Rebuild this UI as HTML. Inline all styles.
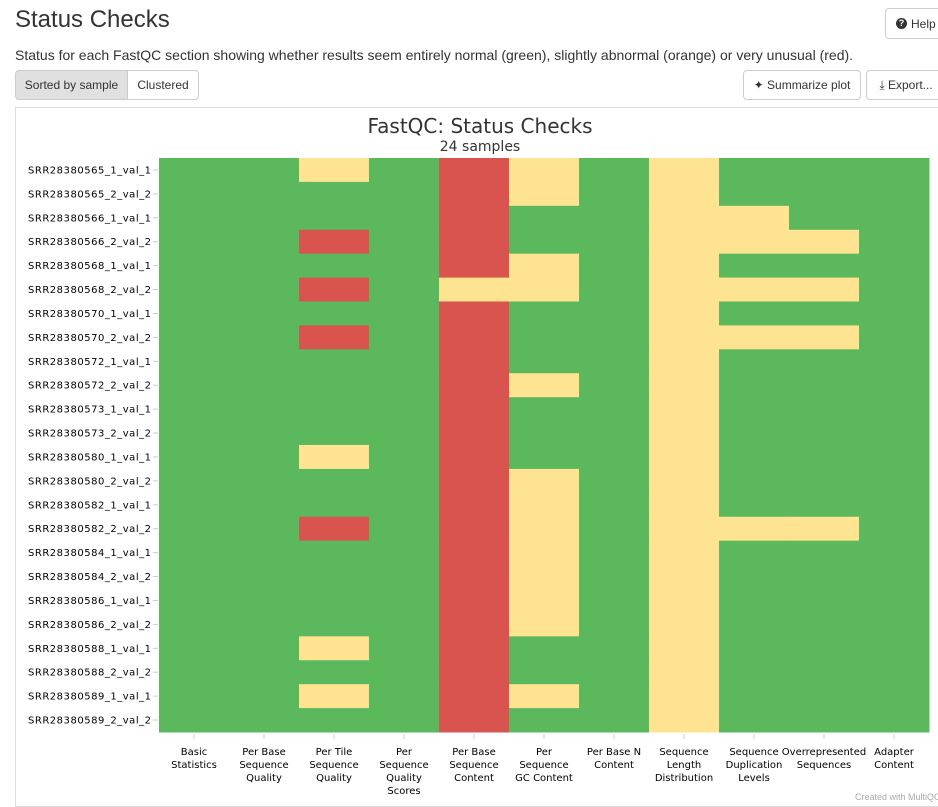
<!DOCTYPE html>
<html><head><meta charset="utf-8"><style>
body{margin:0;background:#fff;font-family:"Liberation Sans",Arial,sans-serif;color:#333;width:938px;height:798px;overflow:hidden;position:relative}
.btn{position:absolute;border:1px solid #ccc;border-radius:4px;background:#fff;font-size:12px;color:#333;box-sizing:border-box;display:flex;align-items:center;justify-content:center;white-space:nowrap}
</style></head><body>
<div style="position:absolute;left:15px;top:6px;font-size:24px;color:#333">Status Checks</div>
<div class="btn" style="left:885px;top:8px;width:60px;height:31px;justify-content:flex-start;padding-left:10px"><span style="display:inline-block;width:11px;height:11px;border-radius:50%;background:#333;color:#fff;font-size:9px;line-height:11px;text-align:center;font-weight:bold;margin-right:4px">?</span>Help</div>
<div style="position:absolute;left:15px;top:47px;font-size:14px">Status for each FastQC section showing whether results seem entirely normal (green), slightly abnormal (orange) or very unusual (red).</div>
<div class="btn" style="left:15px;top:70px;width:113px;height:30px;background:#e0e0e0;border-radius:4px 0 0 4px">Sorted by sample</div>
<div class="btn" style="left:127px;top:70px;width:72px;height:30px;border-radius:0 4px 4px 0">Clustered</div>
<div class="btn" style="left:743px;top:70px;width:118px;height:30px">&#10022; Summarize plot</div>
<div class="btn" style="left:866px;top:70px;width:80px;height:30px">&#10515; Export...</div>
<div style="position:absolute;left:15px;top:107px;width:930px;height:700px;border:1px solid #ddd;box-sizing:border-box"></div>
<svg id="chart" width="938" height="798" style="position:absolute;left:0;top:0" font-family="'DejaVu Sans',Verdana,sans-serif">
<text x="480" y="133" text-anchor="middle" font-size="20" fill="#333">FastQC: Status Checks</text>
<text x="480" y="151" text-anchor="middle" font-size="14" fill="#333">24 samples</text>
</svg>
<div style="position:absolute;left:855px;top:792px;font-size:9px;color:#aaa;white-space:nowrap">Created with MultiQC</div>
<script>
const samples=["SRR28380565_1_val_1","SRR28380565_2_val_2","SRR28380566_1_val_1","SRR28380566_2_val_2","SRR28380568_1_val_1","SRR28380568_2_val_2","SRR28380570_1_val_1","SRR28380570_2_val_2","SRR28380572_1_val_1","SRR28380572_2_val_2","SRR28380573_1_val_1","SRR28380573_2_val_2","SRR28380580_1_val_1","SRR28380580_2_val_2","SRR28380582_1_val_1","SRR28380582_2_val_2","SRR28380584_1_val_1","SRR28380584_2_val_2","SRR28380586_1_val_1","SRR28380586_2_val_2","SRR28380588_1_val_1","SRR28380588_2_val_2","SRR28380589_1_val_1","SRR28380589_2_val_2"];
const sections=[["Basic","Statistics"],["Per Base","Sequence","Quality"],["Per Tile","Sequence","Quality"],["Per","Sequence","Quality","Scores"],["Per Base","Sequence","Content"],["Per","Sequence","GC Content"],["Per Base N","Content"],["Sequence","Length","Distribution"],["Sequence","Duplication","Levels"],["Overrepresented","Sequences"],["Adapter","Content"]];
// 1=pass, 0.5=warn, 0=fail
const values=[
[1,1,.5,1,0,.5,1,.5,1,1,1],
[1,1,1,1,0,.5,1,.5,1,1,1],
[1,1,1,1,0,1,1,.5,.5,1,1],
[1,1,0,1,0,1,1,.5,.5,.5,1],
[1,1,1,1,0,.5,1,.5,1,1,1],
[1,1,0,1,.5,.5,1,.5,.5,.5,1],
[1,1,1,1,0,1,1,.5,1,1,1],
[1,1,0,1,0,1,1,.5,.5,.5,1],
[1,1,1,1,0,1,1,.5,1,1,1],
[1,1,1,1,0,.5,1,.5,1,1,1],
[1,1,1,1,0,1,1,.5,1,1,1],
[1,1,1,1,0,1,1,.5,1,1,1],
[1,1,.5,1,0,1,1,.5,1,1,1],
[1,1,1,1,0,.5,1,.5,1,1,1],
[1,1,1,1,0,.5,1,.5,1,1,1],
[1,1,0,1,0,.5,1,.5,.5,.5,1],
[1,1,1,1,0,.5,1,.5,1,1,1],
[1,1,1,1,0,.5,1,.5,1,1,1],
[1,1,1,1,0,.5,1,.5,1,1,1],
[1,1,1,1,0,.5,1,.5,1,1,1],
[1,1,.5,1,0,1,1,.5,1,1,1],
[1,1,1,1,0,1,1,.5,1,1,1],
[1,1,.5,1,0,.5,1,.5,1,1,1],
[1,1,1,1,0,1,1,.5,1,1,1]];
const svg=document.getElementById('chart');const NS="http://www.w3.org/2000/svg";
const X0=159,X1=929,Y0=158,Y1=732;
const cw=(X1-X0)/sections.length, rh=(Y1-Y0)/samples.length;
const xs=i=>X0+i*cw, ys=j=>Y0+j*rh;
const color=v=>v>=1?"#5cb85c":(v>=.5?"#fee391":"#d9534f");
values.forEach((row,j)=>row.forEach((v,i)=>{
 const r=document.createElementNS(NS,'rect');
 r.setAttribute('x',xs(i));r.setAttribute('y',ys(j));r.setAttribute('width',cw+0.5);r.setAttribute('height',rh+0.5);r.setAttribute('fill',color(v));
 
 
 svg.appendChild(r);
}));
samples.forEach((s,j)=>{
 const t=document.createElementNS(NS,'text');
 t.setAttribute('x',X0-8);t.setAttribute('y',ys(j)+rh/2+3.5);t.setAttribute('text-anchor','end');t.setAttribute('font-size','10');t.setAttribute('fill','#000');
 t.setAttribute('textLength','123');t.setAttribute('lengthAdjust','spacing');
 t.textContent=s;
 
 
 svg.appendChild(t);
 const l=document.createElementNS(NS,'line');
 l.setAttribute('x1',X0-6);l.setAttribute('x2',X0-1);l.setAttribute('y1',ys(j)+rh/2);l.setAttribute('y2',ys(j)+rh/2);l.setAttribute('stroke','#ccc');
 
 
 svg.appendChild(l);
});
sections.forEach((lines,i)=>{
 const cx=xs(i)+cw/2;
 const l=document.createElementNS(NS,'line');
 l.setAttribute('x1',cx);l.setAttribute('x2',cx);l.setAttribute('y1',Y1+2);l.setAttribute('y2',Y1+7);l.setAttribute('stroke','#ccc');
 
 
 svg.appendChild(l);
 const t=document.createElementNS(NS,'text');
 t.setAttribute('text-anchor','middle');t.setAttribute('font-size','10');t.setAttribute('fill','#000');
 
 
 lines.forEach((ln,k)=>{const ts=document.createElementNS(NS,'tspan');ts.setAttribute('x',cx);ts.setAttribute('y',Y1+23+k*13);ts.textContent=ln;t.appendChild(ts);});
 svg.appendChild(t);
});
</script>
</body></html>
